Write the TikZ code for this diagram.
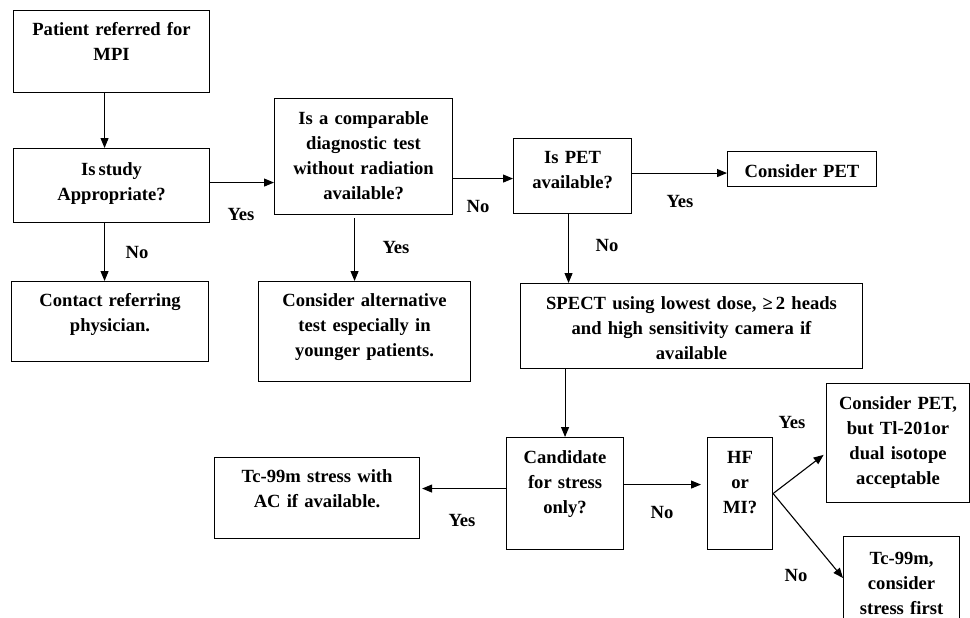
\documentclass[tikz,border=0pt]{standalone}
\usepackage{fontspec}
\setmainfont{Liberation Serif}
\usetikzlibrary{arrows.meta}

\tikzset{
  box/.style={draw, inner sep=0pt, align=center, anchor=north west},
  lbl/.style={inner sep=0pt},
}

\begin{document}
\begin{tikzpicture}[x=1pt, y=-1pt, >={Triangle[length=10pt,width=8pt]}, line width=1.1pt,
  font=\fontsize{18.6pt}{25pt}\selectfont\bfseries]
\useasboundingbox (0,0) rectangle (970,618);
% boxes
\node[box, text width=196pt, text height=25pt, text depth=57pt] (refer) at (13,10) {Patient referred for\\MPI};
\node[box, text width=196pt, text height=27pt, text depth=47pt] (approp) at (13,148) {Is\,study\\Appropriate?};
\node[box, text width=197pt, text height=25pt, text depth=55pt] (contact) at (11,281) {Contact referring\\physician.};
\node[box, text width=178pt, text height=26pt, text depth=90pt] (nonrad) at (274,98) {Is a comparable\\diagnostic test\\without radiation\\available?};
\node[box, text width=212pt, text height=25pt, text depth=75pt] (alttest) at (258,281) {Consider alternative\\test especially in\\younger patients.};
\node[box, text width=118pt, text height=25pt, text depth=50pt] (petq) at (513,138) {Is PET\\available?};
\node[box, text width=149pt, text height=26pt, text depth=9pt] (petyes) at (727,151) {Consider PET};
\node[box, text width=342pt, text height=26pt, text depth=59pt] (spect) at (520,283) {SPECT using lowest dose, ≥\,2 heads\\and high sensitivity camera if\\available};
\node[box, text width=117pt, text height=26pt, text depth=86pt] (stressq) at (506,437) {Candidate\\for stress\\only?};
\node[box, text width=65pt, text height=26pt, text depth=86pt] (hfmi) at (707,437) {HF\\or\\MI?};
\node[box, text width=143pt, text height=26pt, text depth=93pt] (petok) at (826,383) {Consider PET,\\but Tl-201or\\dual isotope\\acceptable};
\node[box, text width=116pt, text height=28pt, text depth=80pt] (tcfirst) at (843,536) {Tc-99m,\\consider\\stress first};
\node[box, text width=205pt, text height=25pt, text depth=56pt] (tcstress) at (214,457) {Tc-99m stress with\\AC if available.};
% connectors
\draw[->] ([xshift=-7pt]refer.south) -- ([xshift=-7pt]approp.north);
\draw[->] ([xshift=-7pt]approp.south) -- ([xshift=-7pt]approp.south |- contact.north);
\draw[->] ([yshift=3pt]approp.east) -- ([yshift=3pt]approp.east -| nonrad.west);
\draw[->, shorten <=3pt] ([xshift=-9pt]nonrad.south) -- ([xshift=-9pt]nonrad.south |- alttest.north);
\draw[->] ([yshift=-22pt]nonrad.east) -- ([yshift=-22pt]nonrad.east -| petq.west);
\draw[->] ([yshift=3pt]petq.east) -- ([yshift=3pt]petq.east -| petyes.west);
\draw[->] ([xshift=-4pt]petq.south) -- ([xshift=-4pt]petq.south |- spect.north);
\draw[->] (spect.south -| stressq.north) -- (stressq.north);
\draw[->, shorten >=2pt] ([yshift=5pt]stressq.west) -- ([yshift=5pt]stressq.west -| tcstress.east);
\draw[->, shorten >=6pt] ([yshift=9pt]stressq.east) -- ([yshift=9pt]stressq.east -| hfmi.west);
\draw[->, shorten >=3pt] (hfmi.east) -- ([yshift=-10pt]petok.west);
\draw[->] (hfmi.east) -- ([yshift=-42pt]tcfirst.north west);
% labels
\node[lbl] (noapp) at (137,253) {No};
\node[lbl] (yesapp) at (241,214) {Yes};
\node[lbl] (yesalt) at (396,247) {Yes};
\node[lbl] (noalt) at (478,207) {No};
\node[lbl] (yespet) at (680,202) {Yes};
\node[lbl] (nopet) at (607,246) {No};
\node[lbl] (yesstr) at (462,520) {Yes};
\node[lbl] (nostr) at (662,512) {No};
\node[lbl] (yeshf) at (792,422) {Yes};
\node[lbl] (nohf) at (796,575) {No};
\end{tikzpicture}
\end{document}
